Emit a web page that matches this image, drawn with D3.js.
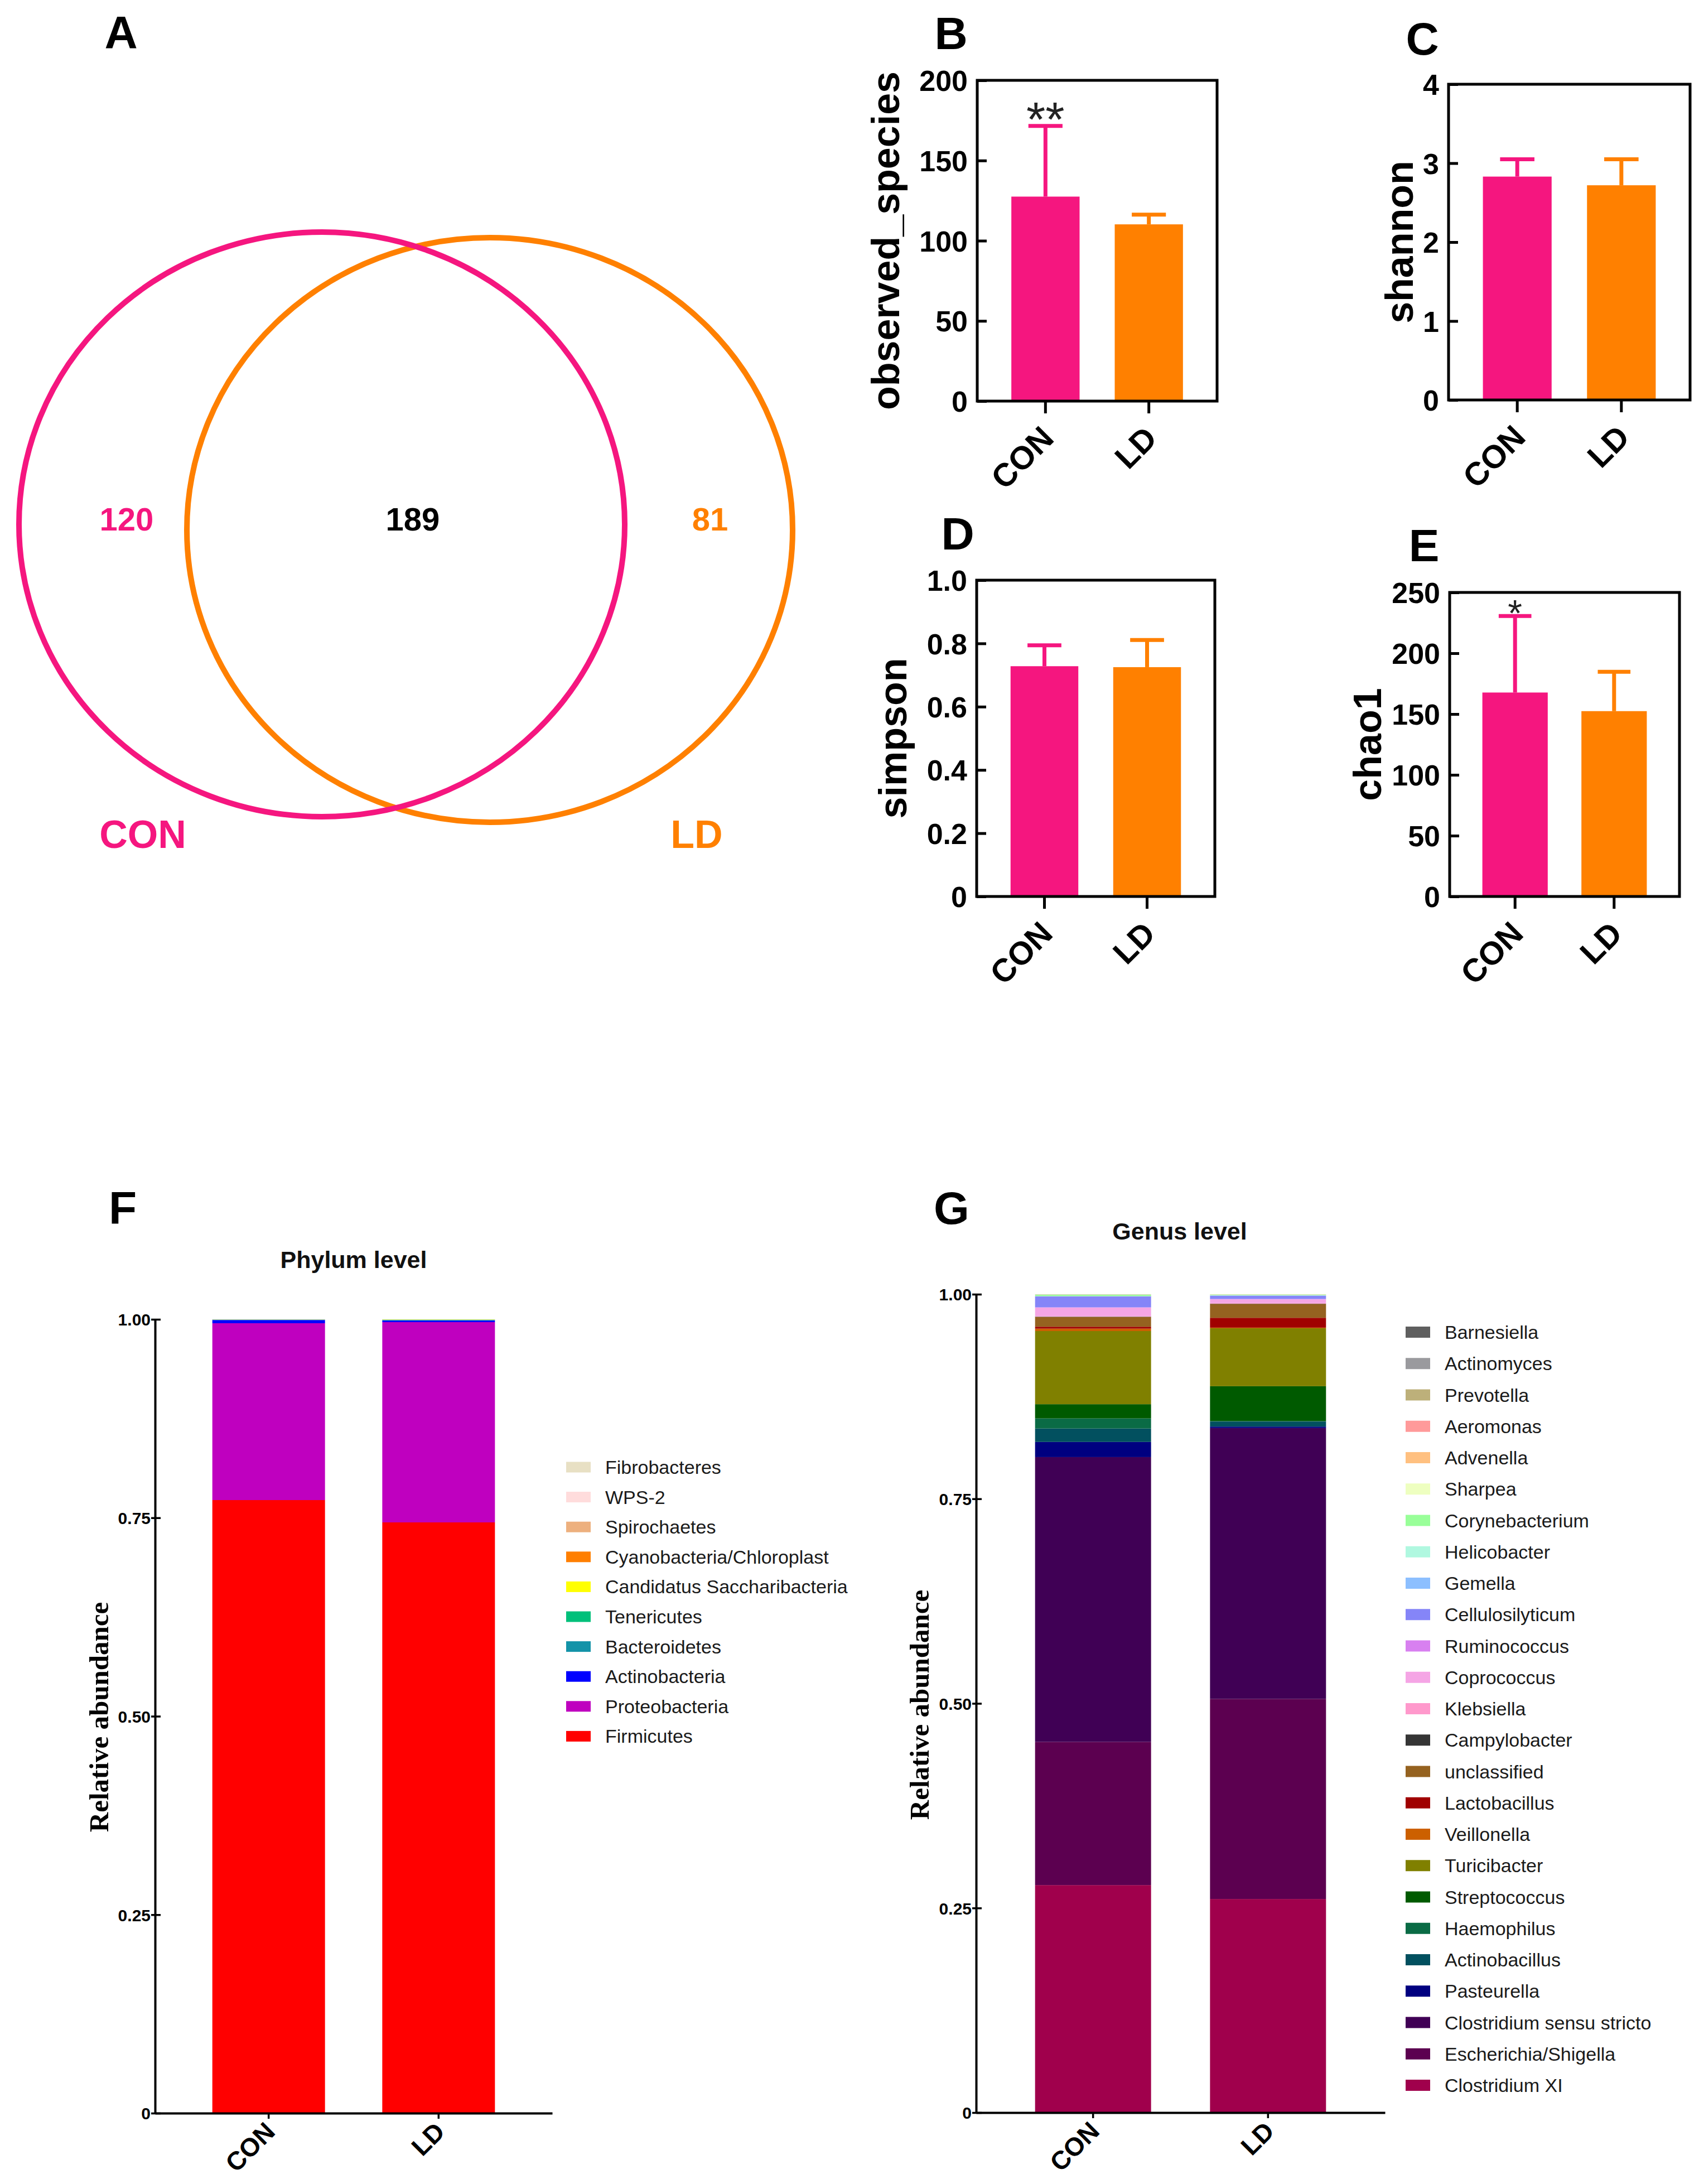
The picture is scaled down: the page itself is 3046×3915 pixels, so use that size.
<!DOCTYPE html>
<html><head><meta charset="utf-8">
<script src="https://cdn.jsdelivr.net/npm/d3@7"></script>
<style>
html,body{margin:0;padding:0;background:#fff;}
svg{display:block;}
</style></head>
<body>
<svg id="chart" width="3046" height="3915"></svg>
<script>
// ================= DATA =================
const groups = ["CON", "LD"];
const vennSetNames = ["CON", "LD"];
const vennCounts = [120, 189, 81];          // CON only, shared, LD only

const observedMean = [127.5, 110.2];
const observedSD   = [44.1, 6.1];
const shannonMean  = [2.83, 2.72];
const shannonSD    = [0.22, 0.33];
const simpsonMean  = [0.728, 0.725];
const simpsonSD    = [0.066, 0.086];
const chao1Mean    = [167.7, 152.4];
const chao1SD      = [62.9, 32.4];

const observedTicks = [0, 50, 100, 150, 200];
const shannonTicks  = [0, 1, 2, 3, 4];
const simpsonTicks  = [0, 0.2, 0.4, 0.6, 0.8, 1.0];
const chao1Ticks    = [0, 50, 100, 150, 200, 250];
const abundanceTicks = [0, 0.25, 0.5, 0.75, 1];

// legend order (top to bottom); stacking is bottom = last item
const phylumNames = ["Fibrobacteres", "WPS-2", "Spirochaetes", "Cyanobacteria/Chloroplast",
  "Candidatus Saccharibacteria", "Tenericutes", "Bacteroidetes", "Actinobacteria",
  "Proteobacteria", "Firmicutes"];
const phylumCON = [0.0000, 0.0000, 0.0001, 0.0001, 0.0001, 0.0002, 0.0004, 0.0040, 0.2228, 0.7723];
const phylumLD  = [0.0000, 0.0000, 0.0001, 0.0001, 0.0003, 0.0005, 0.0005, 0.0020, 0.2523, 0.7442];
const phylumColors = ["#E8E0C4", "#FFDCDC", "#EDB07E", "#FF7F00", "#FFFF00",
  "#00C07A", "#1493A8", "#0000FF", "#BF00BF", "#FF0000"];

const genusNames = ["Barnesiella", "Actinomyces", "Prevotella", "Aeromonas", "Advenella",
  "Sharpea", "Corynebacterium", "Helicobacter", "Gemella", "Cellulosilyticum",
  "Ruminococcus", "Coprococcus", "Klebsiella", "Campylobacter", "unclassified",
  "Lactobacillus", "Veillonella", "Turicibacter", "Streptococcus", "Haemophilus",
  "Actinobacillus", "Pasteurella", "Clostridium sensu stricto", "Escherichia/Shigella",
  "Clostridium XI"];
const genusCON = [0.0000, 0.0001, 0.0001, 0.0001, 0.0001, 0.0001, 0.0018, 0.0002, 0.0002, 0.0133,
  0.0003, 0.0106, 0.0005, 0.0003, 0.0120, 0.0023, 0.0030, 0.0894, 0.0173, 0.0123,
  0.0165, 0.0185, 0.3480, 0.1750, 0.2780];
const genusLD  = [0.0000, 0.0000, 0.0001, 0.0001, 0.0001, 0.0001, 0.0008, 0.0003, 0.0003, 0.0040,
  0.0005, 0.0045, 0.0007, 0.0003, 0.0170, 0.0120, 0.0008, 0.0708, 0.0426, 0.0005,
  0.0062, 0.0018, 0.3310, 0.2445, 0.2610];
const genusColors = ["#5F5F5F", "#9A9A9E", "#BDB07A", "#FF9A9A", "#FFC080",
  "#EEFFC0", "#99FF99", "#B0F8E0", "#8CBFFF", "#8585F8",
  "#D880F0", "#F5A5E5", "#FF99CC", "#353535", "#956220",
  "#A00000", "#CC6000", "#808000", "#005A00", "#0A6B45",
  "#02505F", "#000080", "#400055", "#5C0050", "#A0004C"];

// ================= STYLE / LAYOUT =================
const SANS = "'Liberation Sans', Arial, Helvetica, sans-serif";
const SERIF = "'Liberation Serif', 'Times New Roman', serif";
const PINK = "#F5167F", ORANGE = "#FF8000";
const groupColors = [PINK, ORANGE];

const svg = d3.select("#chart");
svg.append("rect").attr("width", 3046).attr("height", 3915).attr("fill", "#fff");

const layout = {
  letters: [["A", 217, 86], ["B", 1705, 88], ["C", 2550, 98], ["D", 1717, 985],
            ["E", 2553, 1006], ["F", 220, 2194], ["G", 1706, 2194]],
  venn: [{cx: 577, cy: 940, rx: 543, ry: 524}, {cx: 878, cy: 950, rx: 543, ry: 524}],
  vennCountPos: [[227, 951], [740, 951], [1273, 951]],
  vennNamePos: [[256, 1520], [1249, 1520]],
  B: {left: 1752, right: 2182, top: 144, bottom: 719, labelX: 1612},
  C: {left: 2597, right: 3030, top: 151, bottom: 717, labelX: 2533},
  D: {left: 1751, right: 2178, top: 1040, bottom: 1607, labelX: 1625},
  E: {left: 2599, right: 3011, top: 1062, bottom: 1607, labelX: 2476},
  F: {left: 278, right: 990, top: 2365, bottom: 3788, labelX: 194, labelY: 3078,
      titleX: 634, titleY: 2273, legX: 1015, legY: 2630, legStep: 53.6, swH: 19},
  G: {left: 1750, right: 2483, top: 2320, bottom: 3787, labelX: 1665, labelY: 3056,
      titleX: 2115, titleY: 2222, legX: 2520, legY: 2388, legStep: 56.25, swH: 20}
};

// ---------- panel letters ----------
svg.append("g").selectAll("text").data(layout.letters).join("text")
  .attr("x", d => d[1]).attr("y", d => d[2])
  .attr("text-anchor", "middle")
  .attr("font-family", SANS).attr("font-weight", "bold").attr("font-size", 82)
  .attr("fill", "#000").text(d => d[0]);

// ---------- A: Venn ----------
const vg = svg.append("g");
[1, 0].forEach(i => {
  const e = layout.venn[i];
  vg.append("ellipse").attr("cx", e.cx).attr("cy", e.cy).attr("rx", e.rx).attr("ry", e.ry)
    .attr("fill", "none").attr("stroke", groupColors[i]).attr("stroke-width", 10);
});
const countColors = [PINK, "#000", ORANGE];
vg.selectAll("text.count").data(vennCounts).join("text").attr("class", "count")
  .attr("x", (d, i) => layout.vennCountPos[i][0]).attr("y", (d, i) => layout.vennCountPos[i][1])
  .attr("text-anchor", "middle").attr("font-family", SANS).attr("font-weight", "bold")
  .attr("font-size", 58).attr("fill", (d, i) => countColors[i]).text(d => d);
vg.selectAll("text.setname").data(vennSetNames).join("text").attr("class", "setname")
  .attr("x", (d, i) => layout.vennNamePos[i][0]).attr("y", (d, i) => layout.vennNamePos[i][1])
  .attr("text-anchor", "middle").attr("font-family", SANS).attr("font-weight", "bold")
  .attr("font-size", 70).attr("fill", (d, i) => groupColors[i]).text(d => d);

// ---------- B-E: alpha diversity bars ----------
function alphaPanel(cfg, means, sds, maxV, ticks, fmt, yLabel, star, starSize) {
  const g = svg.append("g");
  const x = d3.scaleBand().domain(groups).range([cfg.left, cfg.right])
    .paddingInner(0.34).paddingOuter(0.33);
  const y = d3.scaleLinear().domain([0, maxV]).range([cfg.bottom, cfg.top]);
  const rows = groups.map((grp, i) => ({grp, m: means[i], s: sds[i], c: groupColors[i]}));

  g.selectAll("rect.bar").data(rows).join("rect").attr("class", "bar")
    .attr("x", d => x(d.grp)).attr("width", x.bandwidth())
    .attr("y", d => y(d.m)).attr("height", d => y(0) - y(d.m)).attr("fill", d => d.c);
  // error bars (upper)
  g.selectAll("line.err").data(rows).join("line").attr("class", "err")
    .attr("x1", d => x(d.grp) + x.bandwidth() / 2).attr("x2", d => x(d.grp) + x.bandwidth() / 2)
    .attr("y1", d => y(d.m)).attr("y2", d => y(d.m + d.s))
    .attr("stroke", d => d.c).attr("stroke-width", 7);
  g.selectAll("line.cap").data(rows).join("line").attr("class", "cap")
    .attr("x1", d => x(d.grp) + x.bandwidth() / 4).attr("x2", d => x(d.grp) + x.bandwidth() * 3 / 4)
    .attr("y1", d => y(d.m + d.s)).attr("y2", d => y(d.m + d.s))
    .attr("stroke", d => d.c).attr("stroke-width", 7);
  if (star) {
    g.append("text").attr("x", x("CON") + x.bandwidth() / 2)
      .attr("y", y(means[0] + sds[0]) + 18)
      .attr("text-anchor", "middle").attr("font-family", SANS).attr("font-size", starSize)
      .attr("fill", "#222").text(star);
  }
  // y axis (ticks inward)
  const ya = g.append("g").attr("transform", `translate(${cfg.left},0)`)
    .call(d3.axisLeft(y).tickValues(ticks).tickFormat(fmt).tickSizeInner(-17).tickSizeOuter(0).tickPadding(17));
  ya.select(".domain").remove();
  ya.selectAll(".tick line").attr("stroke", "#000").attr("stroke-width", 5);
  ya.selectAll(".tick text").attr("font-family", SANS).attr("font-weight", "bold")
    .attr("font-size", 52).attr("fill", "#000").attr("dy", "0.36em");
  // x axis (ticks outward)
  const xa = g.append("g").attr("transform", `translate(0,${cfg.bottom})`)
    .call(d3.axisBottom(x).tickSizeInner(22).tickSizeOuter(0));
  xa.select(".domain").remove();
  xa.selectAll(".tick line").attr("stroke", "#000").attr("stroke-width", 5);
  xa.selectAll(".tick text").attr("font-family", SANS).attr("font-weight", "bold")
    .attr("font-size", 58).attr("fill", "#000").attr("text-anchor", "end")
    .attr("x", 0).attr("y", 0).attr("dy", 0)
    .attr("transform", "translate(18,70) rotate(-45)");
  // frame
  g.append("rect").attr("x", cfg.left).attr("y", cfg.top)
    .attr("width", cfg.right - cfg.left).attr("height", cfg.bottom - cfg.top)
    .attr("fill", "none").attr("stroke", "#000").attr("stroke-width", 5);
  // y label
  g.append("text").attr("transform", `translate(${cfg.labelX},${(cfg.top + cfg.bottom) / 2}) rotate(-90)`)
    .attr("text-anchor", "middle").attr("font-family", SANS).attr("font-weight", "bold")
    .attr("font-size", 70).attr("fill", "#000").text(yLabel);
}

const intFmt = d => String(d);
const oneDec = d => d === 0 ? "0" : d.toFixed(1);
alphaPanel(layout.B, observedMean, observedSD, 200, observedTicks, intFmt, "observed_species", "**", 88);
alphaPanel(layout.C, shannonMean, shannonSD, 4, shannonTicks, intFmt, "shannon", null, 0);
alphaPanel(layout.D, simpsonMean, simpsonSD, 1, simpsonTicks, oneDec, "simpson", null, 0);
alphaPanel(layout.E, chao1Mean, chao1SD, 250, chao1Ticks, intFmt, "chao1", "*", 66);

// ---------- F, G: stacked relative abundance ----------
function stackPanel(cfg, names, conVals, ldVals, colors, title) {
  const g = svg.append("g");
  const x = d3.scaleBand().domain(groups).range([cfg.left, cfg.right])
    .paddingInner(0.337).paddingOuter(0.337);
  const y = d3.scaleLinear().domain([0, 1]).range([cfg.bottom, cfg.top]);
  const rows = groups.map((grp, gi) => {
    const r = {group: grp};
    names.forEach((n, ni) => { r[n] = (gi === 0 ? conVals : ldVals)[ni]; });
    return r;
  });
  const color = d3.scaleOrdinal().domain(names).range(colors);
  const series = d3.stack().keys(names.slice().reverse())(rows);
  g.selectAll("g.series").data(series).join("g").attr("class", "series")
    .attr("fill", s => color(s.key))
    .selectAll("rect").data(s => s).join("rect")
    .attr("x", d => x(d.data.group)).attr("width", x.bandwidth())
    .attr("y", d => y(d[1])).attr("height", d => Math.max(0, y(d[0]) - y(d[1])));

  // y axis
  const ya = g.append("g").attr("transform", `translate(${cfg.left},0)`)
    .call(d3.axisLeft(y).tickValues(abundanceTicks)
      .tickFormat(d => d === 0 ? "0" : d.toFixed(2)).tickSizeInner(7).tickSizeOuter(0).tickPadding(1));
  ya.select(".domain").attr("stroke", "#000").attr("stroke-width", 4);
  ya.selectAll(".tick line").attr("x1", 10).attr("stroke", "#000").attr("stroke-width", 3.5);
  ya.selectAll(".tick text").attr("font-family", SANS).attr("font-weight", "bold")
    .attr("font-size", 30).attr("fill", "#000").attr("dy", "0.36em");
  // x axis
  const xa = g.append("g").attr("transform", `translate(0,${cfg.bottom})`)
    .call(d3.axisBottom(x).tickSizeInner(10).tickSizeOuter(0));
  xa.select(".domain").attr("stroke", "#000").attr("stroke-width", 4);
  xa.selectAll(".tick line").attr("stroke", "#000").attr("stroke-width", 3.5);
  xa.selectAll(".tick text").attr("font-family", SANS).attr("font-weight", "bold")
    .attr("font-size", 46).attr("fill", "#000").attr("text-anchor", "end")
    .attr("x", 0).attr("y", 0).attr("dy", 0)
    .attr("transform", "translate(14,36) rotate(-45)");
  // y label
  g.append("text").attr("transform", `translate(${cfg.labelX},${cfg.labelY}) rotate(-90)`)
    .attr("text-anchor", "middle").attr("font-family", SERIF).attr("font-weight", "bold")
    .attr("font-size", 49).attr("fill", "#000").text("Relative abundance");
  // title
  g.append("text").attr("x", cfg.titleX).attr("y", cfg.titleY).attr("text-anchor", "middle")
    .attr("font-family", SANS).attr("font-weight", "bold").attr("font-size", 43)
    .attr("fill", "#111").text(title);
  // legend
  const lg = g.append("g");
  const items = lg.selectAll("g.item").data(names).join("g").attr("class", "item")
    .attr("transform", (d, i) => `translate(${cfg.legX},${cfg.legY + i * cfg.legStep})`);
  items.append("rect").attr("x", 0).attr("y", -cfg.swH / 2).attr("width", 44).attr("height", cfg.swH)
    .attr("fill", d => color(d));
  items.append("text").attr("x", 70).attr("y", 12).attr("font-family", SANS)
    .attr("font-size", 34).attr("fill", "#1a1a1a").text(d => d);
}

stackPanel(layout.F, phylumNames, phylumCON, phylumLD, phylumColors, "Phylum level");
stackPanel(layout.G, genusNames, genusCON, genusLD, genusColors, "Genus level");
</script>
</body></html>
